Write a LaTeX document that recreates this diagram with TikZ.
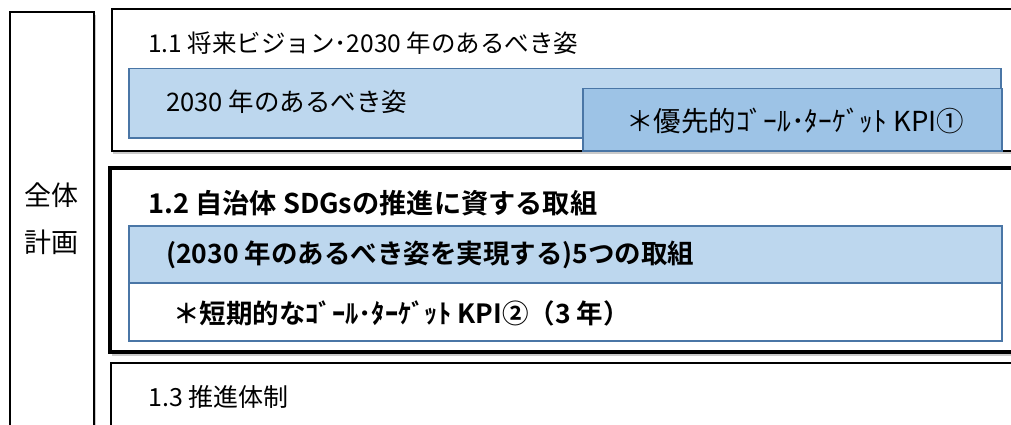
\documentclass[tikz,border=0pt]{standalone}
\usepackage{fontspec}
\setmainfont{Noto Sans CJK JP}[BoldFont={Noto Sans CJK JP Bold}]
\usetikzlibrary{shadows}
\definecolor{bluefill}{HTML}{BDD7EE}
\definecolor{kpifill}{HTML}{9DC3E6}
\definecolor{blueline}{HTML}{4A76A6}
\tikzset{
  box/.style={draw=black, fill=white, anchor=north west, inner sep=0pt, line width=1.8pt,
    drop shadow={shadow xshift=1.5pt, shadow yshift=-3.5pt, fill=black!35, opacity=0.6}},
  bluebox/.style={draw=blueline, fill=bluefill, anchor=north west, inner sep=0pt, line width=1.5pt},
  txt/.style={anchor=west, inner sep=0pt, font=\fontsize{25}{28}\selectfont},
  btxt/.style={anchor=west, inner sep=0pt, font=\fontsize{26.5}{30}\selectfont\bfseries},
}
\begin{document}
\begin{tikzpicture}[x=1pt,y=-1pt]
\useasboundingbox (0,0) rectangle (1011,425);
\clip (0,0) rectangle (1011,425);
% left box
\node[box, line width=2pt, minimum width=84pt, minimum height=440pt] (whole) at (9,11) {};
\node[font=\fontsize{27}{47}\selectfont, align=center, inner sep=0pt] (wholet) at (51,219) {全体\\計画};
% 1.1
\node[box, minimum width=920pt, minimum height=142pt] (b11) at (111,8) {};
\node[txt, font=\fontsize{24.5}{28}\selectfont] (t11) at (148,43) {1.1 将来ビジョン･2030 年のあるべき姿};
\node[bluebox, minimum width=872pt, minimum height=69pt] (vision) at (128,68) {};
\node[txt, font=\fontsize{25.5}{28}\selectfont] (tvision) at (166,102) {2030 年のあるべき姿};
\node[bluebox, fill=kpifill, minimum width=419pt, minimum height=62pt] (kpi1) at (582,88) {};
\node[txt, font=\fontsize{27.5}{30}\selectfont] (tkpi1) at (626,121) {＊優先的ｺﾞｰﾙ･ﾀｰｹﾞｯﾄ KPI①};
% 1.2
\node[box, line width=4pt, minimum width=920pt, minimum height=184pt] (b12) at (108,166) {};
\node[btxt, font=\fontsize{27.2}{30}\selectfont\bfseries] (t12) at (148,203) {1.2 自治体 SDGsの推進に資する取組};
\node[bluebox, minimum width=873pt, minimum height=57pt] (five) at (128,225) {};
\node[btxt] (tfive) at (166,255) {(2030 年のあるべき姿を実現する)5つの取組};
\node[bluebox, fill=white, minimum width=873pt, minimum height=58pt] (kpi2) at (128,282) {};
\node[btxt] (tkpi2) at (173,313) {＊短期的なｺﾞｰﾙ･ﾀｰｹﾞｯﾄ KPI②（3 年）};
% 1.3
\node[box, minimum width=920pt, minimum height=100pt] (b13) at (110,362) {};
\node[txt] (t13) at (148,397) {1.3 推進体制};
\end{tikzpicture}
\end{document}
